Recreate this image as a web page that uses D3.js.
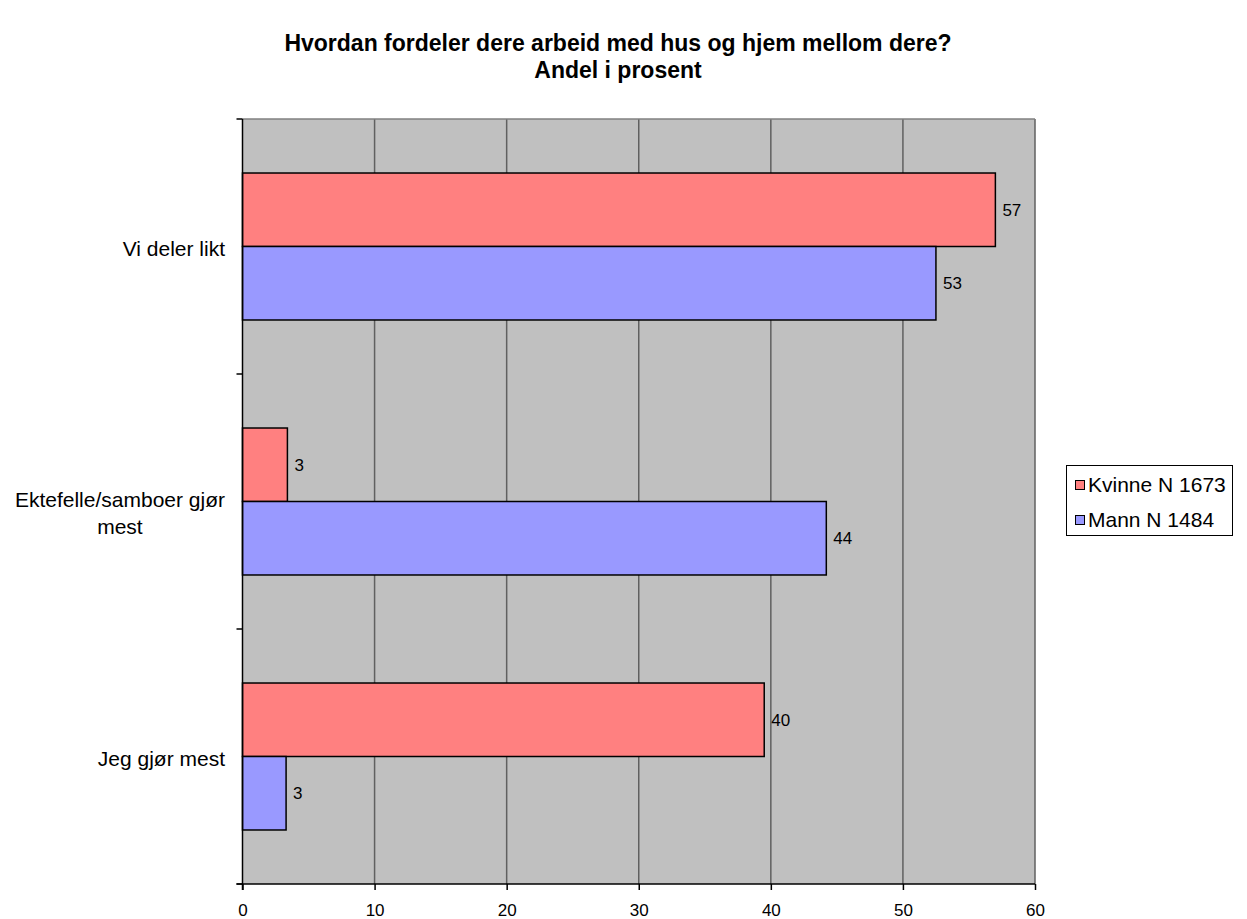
<!DOCTYPE html>
<html>
<head>
<meta charset="utf-8">
<script src="https://cdn.jsdelivr.net/npm/d3@7"></script>
<style>
  html, body { margin: 0; padding: 0; background: #ffffff; }
  svg { display: block; font-family: "Liberation Sans", Arial, sans-serif; }
</style>
</head>
<body>
<svg id="chart" width="1247" height="919"></svg>
<script>
// Survey answers, percent of respondents
const categories = ["Vi deler likt", "Ektefelle/samboer gjør mest", "Jeg gjør mest"];
const seriesNames = ["Kvinne N 1673", "Mann N 1484"];
const kvinneValues = [57.0, 3.4, 39.5];
const mannValues = [52.5, 44.2, 3.3];
const xTicks = [0, 10, 20, 30, 40, 50, 60];
const titleLines = ["Hvordan fordeler dere arbeid med hus og hjem mellom dere?", "Andel i prosent"];
const seriesColors = ["#FF8080", "#9999FF"];

const rows = categories.map((c, i) => ({
  category: c,
  values: [kvinneValues[i], mannValues[i]]
}));

const svg = d3.select("#chart");
const plot = { left: 242.5, right: 1035, top: 119, bottom: 884 };

const x = d3.scaleLinear().domain([0, 60]).range([plot.left, plot.right]);
const y = d3.scaleBand().domain(categories).range([plot.top, plot.bottom]).padding(0);
const ySeries = d3.scaleBand().domain(seriesNames).range([0, y.bandwidth()])
  .paddingInner(0).paddingOuter(0.735);

// Title
svg.append("g").selectAll("text").data(titleLines).join("text")
  .attr("x", 618)
  .attr("y", (d, i) => 51 + i * 27)
  .attr("text-anchor", "middle")
  .attr("font-weight", "bold")
  .attr("font-size", 23)
  .attr("fill", "#000")
  .text(d => d);

// Plot background
svg.append("rect")
  .attr("x", plot.left).attr("y", plot.top)
  .attr("width", plot.right - plot.left).attr("height", plot.bottom - plot.top)
  .attr("fill", "#C0C0C0");

// Vertical gridlines
svg.append("g").selectAll("line").data(xTicks.slice(1)).join("line")
  .attr("x1", d => x(d)).attr("x2", d => x(d))
  .attr("y1", plot.top).attr("y2", plot.bottom)
  .attr("stroke", "#606060").attr("stroke-width", 1.5);

// Top border
svg.append("line")
  .attr("x1", plot.left).attr("x2", plot.right)
  .attr("y1", plot.top).attr("y2", plot.top)
  .attr("stroke", "#808080").attr("stroke-width", 1.5);

// Bars
const groups = svg.append("g").selectAll("g").data(rows).join("g")
  .attr("transform", d => `translate(0,${y(d.category)})`);

groups.selectAll("rect").data(d => d.values.map((v, j) => ({ v, s: seriesNames[j], j })))
  .join("rect")
  .attr("x", x(0))
  .attr("y", d => ySeries(d.s))
  .attr("width", d => x(d.v) - x(0))
  .attr("height", ySeries.bandwidth())
  .attr("fill", d => seriesColors[d.j])
  .attr("stroke", "#000")
  .attr("stroke-width", 1.5);

groups.selectAll("text").data(d => d.values.map((v, j) => ({ v, s: seriesNames[j] })))
  .join("text")
  .attr("x", d => x(d.v) + 7)
  .attr("y", d => ySeries(d.s) + ySeries.bandwidth() / 2)
  .attr("dy", "0.35em")
  .attr("font-size", 17)
  .attr("fill", "#000")
  .text(d => d3.format(".0f")(d.v));

// Bottom axis
const xAxis = d3.axisBottom(x).tickValues(xTicks).tickSize(6).tickPadding(14).tickFormat(d3.format("d"));
const gx = svg.append("g").attr("transform", `translate(0,${plot.bottom})`).call(xAxis);
gx.select(".domain").attr("stroke", "#000").attr("stroke-width", 1.5).attr("d", `M${plot.left - 6},0H${plot.right}`);
gx.selectAll(".tick line").attr("stroke", "#000").attr("stroke-width", 1.5);
gx.selectAll(".tick text").attr("font-size", 17).attr("fill", "#000")
  .attr("font-family", "Liberation Sans, Arial, sans-serif");

// Left axis: line with ticks on category boundaries
const boundaries = categories.map(c => y(c)).concat([plot.bottom]);
const gy = svg.append("g");
gy.append("line")
  .attr("x1", plot.left).attr("x2", plot.left)
  .attr("y1", plot.top).attr("y2", plot.bottom + 6)
  .attr("stroke", "#000").attr("stroke-width", 1.5);
gy.selectAll("line.tick").data(boundaries).join("line")
  .attr("class", "tick")
  .attr("x1", plot.left - 6).attr("x2", plot.left)
  .attr("y1", d => d).attr("y2", d => d)
  .attr("stroke", "#000").attr("stroke-width", 1.5);

// Category labels (wrapped lines centred on each other, right edge at 225)
const labelWrap = {
  "Ektefelle/samboer gjør mest": ["Ektefelle/samboer gjør", "mest"]
};
const lineH = 27;
categories.forEach(c => {
  const lines = labelWrap[c] || [c];
  const cy = y(c) + y.bandwidth() / 2 + 2 - (lines.length - 1) * 4;
  const g = svg.append("g");
  const texts = g.selectAll("text").data(lines).join("text")
    .attr("font-size", 21)
    .attr("fill", "#000")
    .attr("text-anchor", "middle")
    .attr("y", (d, i) => cy + i * lineH)
    .attr("dy", "0.35em")
    .text(d => d);
  let maxW = 0;
  texts.each(function () { maxW = Math.max(maxW, this.getComputedTextLength()); });
  texts.attr("x", 225 - maxW / 2);
});

// Legend
const legend = svg.append("g");
legend.append("rect")
  .attr("x", 1066.5).attr("y", 465.5).attr("width", 166).attr("height", 70)
  .attr("fill", "#fff").attr("stroke", "#000").attr("stroke-width", 1);
const items = legend.selectAll("g.item").data(seriesNames).join("g")
  .attr("class", "item")
  .attr("transform", (d, i) => `translate(1075,${485 + i * 35})`);
items.append("rect")
  .attr("x", 0.5).attr("y", -4.5).attr("width", 9).attr("height", 9)
  .attr("fill", (d, i) => seriesColors[i]).attr("stroke", "#000").attr("stroke-width", 1);
items.append("text")
  .attr("x", 13).attr("y", 0).attr("dy", "0.35em")
  .attr("font-size", 21).attr("fill", "#000")
  .text(d => d);
</script>
</body>
</html>
